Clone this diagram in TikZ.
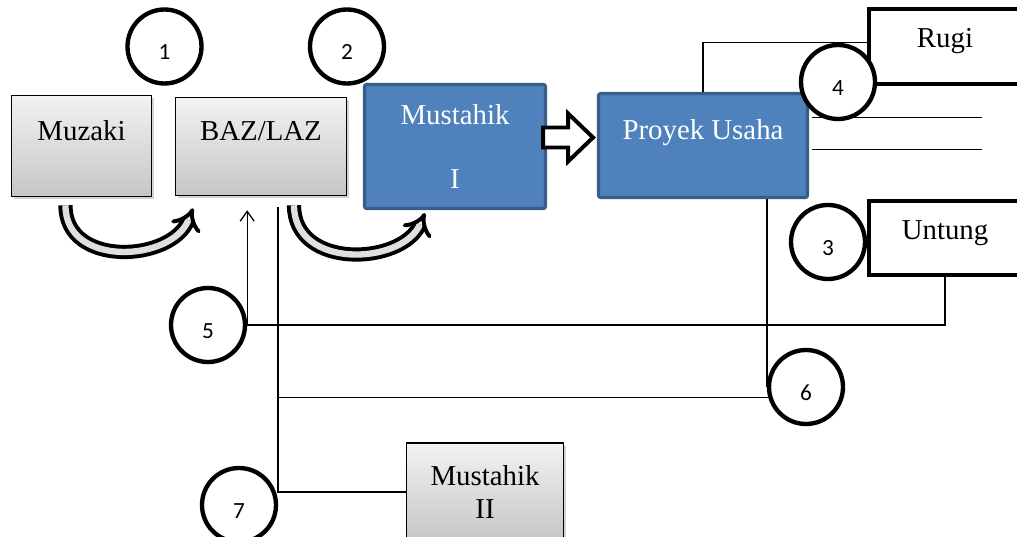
\documentclass[tikz,border=0pt]{standalone}
\usepackage{fontspec}
\setmainfont{Liberation Serif}
\newfontfamily\numfont{Carlito}
\usepackage{xcolor}
\usepackage{tikz}
\usetikzlibrary{positioning,calc,arrows.meta,shadows}
\definecolor{bluefill}{HTML}{4F81BD}
\definecolor{blueborder}{HTML}{385D8A}
\newlength\px
\setlength\px{0.025cm}

\begin{document}
\begin{tikzpicture}[x=0.025cm,y=-0.025cm,
    boxfont/.style={font=\fontsize{20.5}{24}\selectfont},
    graybox/.style={draw, line width=1.1pt, top color=gray!10, bottom color=gray!45,
        drop shadow={opacity=0.35, shadow xshift=2pt, shadow yshift=-2pt}, boxfont},
    bluebox/.style={draw=blueborder, line width=2.2pt, fill=bluefill, rounded corners=1.5pt,
        text=white, align=center, boxfont},
    resultbox/.style={draw, line width=2.8pt, fill=white, boxfont, text height=14pt, text depth=12pt},
    uptext/.style={text height=14pt, text depth=22pt},
    num/.style={circle, draw, line width=3.1pt, fill=white, minimum size=74\px, inner sep=0pt,
        font=\numfont\fontsize{16.5}{19}\selectfont, text height=19pt, text depth=0pt},
    link/.style={line width=0.9pt},
    curvy/.style={draw, line width=2.8pt, double=gray!25, double distance=4.5pt, -{Implies[scale=1.35]}},
    blockarrow/.style={draw, line width=2.8pt, fill=white, line join=miter}]
    \useasboundingbox (0,0) rectangle (1017,537);
    \clip (0,0) rectangle (1017,537);

    % boxes
    \node[graybox, uptext, minimum width=140\px, minimum height=101\px] (muzaki) at (81.5,146) {Muzaki};
    \node[graybox, uptext, minimum width=171\px, minimum height=98\px] (baz) at (261,146.5) {BAZ/LAZ};
    \node[bluebox, minimum width=181\px, minimum height=124\px] (must1) at (455,146.5) {Mustahik\\[22pt]I};
    \node[bluebox, uptext, minimum width=209\px, minimum height=104\px] (proyek) at (703,145.5) {Proyek Usaha};
    \node[resultbox, minimum width=152\px, minimum height=75\px] (rugi) at (945,46.5) {Rugi};
    \node[resultbox, minimum width=152\px, minimum height=74\px] (untung) at (945,238) {Untung};
    \node[graybox, align=center, minimum width=157\px, minimum height=98\px] (must2) at (485,492) {Mustahik\\II};

    % flow arrows
    \draw[curvy] ([xshift=-16\px,yshift=-8\px]muzaki.south) .. controls (65,268) and (172,262) .. ([xshift=-68\px,yshift=-12\px]baz.south);
    \draw[curvy] ([xshift=33\px,yshift=-9\px]baz.south) .. controls (294,270) and (402,265) .. ([xshift=-30\px,yshift=-3\px]must1.south);
    \draw[blockarrow] ([yshift=9\px]must1.east) ++(-4,-10) -- ++(25,0) -- ++(0,-14) -- ++(25,24)
        -- ++(-25,24) -- ++(0,-14) -- ++(-25,0) -- cycle;

    % numbered steps
    \node[num] (c1) at (164.5,46.5) {1};
    \node[num] (c2) at (347,46.5) {2};
    \node[num] (c4) at (838,82) {4};
    \node[num] (c3) at (828,242) {3};
    \node[num] (c5) at (208,325) {5};
    \node[num] (c6) at (806,387) {6};
    \node[num] (c7) at (239,505) {7};

    % connectors
    \coordinate (bustop) at ([xshift=17\px,yshift=-11\px]baz.south);
    \coordinate (uptip) at ([xshift=-13\px,yshift=-14\px]baz.south);
    \draw[link] (proyek.north) |- ([yshift=4\px]rugi.west);
    \draw[link] ([xshift=3\px,yshift=28\px]proyek.east) -- ++(170,0);
    \draw[link] ([xshift=3\px,yshift=-4\px]proyek.east) -- ++(170,0);
    \draw[link] ([xshift=64\px]proyek.south) -- ([xshift=64\px]proyek.south |- c6.west);
    \draw[link] (c6.195) -- (c6.195 -| bustop);
    \draw[link] (bustop) |- (must2.west);
    \draw[link] (untung.south) |- (c5.east);
    \draw[link, -{Straight Barb[length=7pt,width=10pt]}] (c5.east) -- (c5.east |- uptip);
\end{tikzpicture}
\end{document}
